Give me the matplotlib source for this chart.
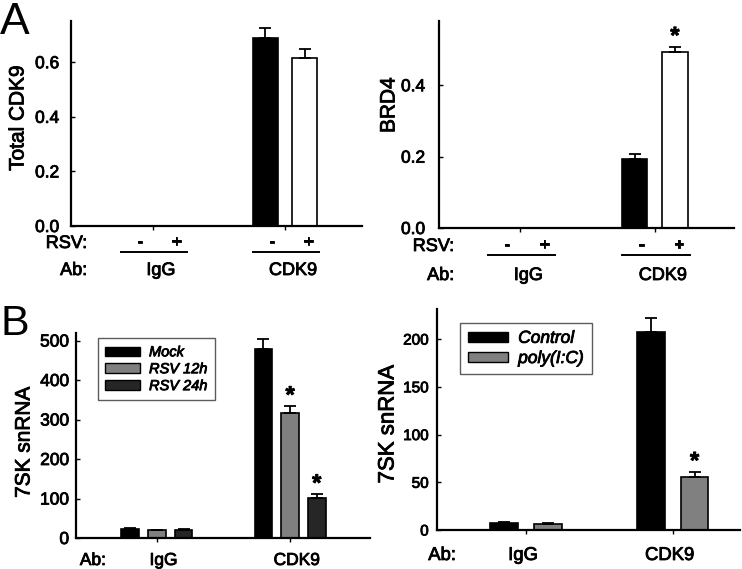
import numpy as np
import matplotlib
matplotlib.use("Agg")
import matplotlib.pyplot as plt
from matplotlib.patches import Patch
from matplotlib import transforms
import matplotlib.patheffects as pe

plt.rcParams['font.family'] = ['Liberation Sans', 'DejaVu Sans']

W, H = 742, 569

# ---- data ----
groups = ["IgG", "CDK9"]

# A left: total CDK9
cdk9_mock = [0.0, 0.688]
cdk9_mock_err = [0.0, 0.039]
cdk9_rsv = [0.0, 0.616]
cdk9_rsv_err = [0.0, 0.032]

# A right: BRD4
brd4_mock = [0.0, 0.193]
brd4_mock_err = [0.0, 0.014]
brd4_rsv = [0.0, 0.492]
brd4_rsv_err = [0.0, 0.016]

# B left: 7SK snRNA after RSV
sk_mock = [22.7, 478]
sk_mock_err = [1.5, 27]
sk_rsv12 = [19, 316]
sk_rsv12_err = [1.0, 18]
sk_rsv24 = [21, 101]
sk_rsv24_err = [1.5, 10]

# B right: 7SK snRNA after poly(I:C)
pic_ctrl = [7.7, 207.4]
pic_ctrl_err = [0.8, 14.3]
pic_poly = [6.3, 55.3]
pic_poly_err = [0.8, 5.7]

BLACK = "#000000"
GRAY = "#808080"
DARK = "#262626"


def px_axes(fig, left, right, top, bottom):
	return fig.add_axes([left / W, 1 - bottom / H, (right - left) / W, (bottom - top) / H])


def style_axes(ax, xlim, ylim, yticks, fmt, fs, pad):
	ax.set_xlim(*xlim)
	ax.set_ylim(*ylim)
	for s in ["top", "right"]:
		ax.spines[s].set_visible(False)
	for s in ["left", "bottom"]:
		ax.spines[s].set_linewidth(1.6)
	ax.set_xticks([1, 2])
	ax.set_xticklabels([])
	ax.tick_params(axis="x", direction="out", length=3, width=1)
	ax.set_yticks(yticks)
	ax.set_yticklabels([fmt % v for v in yticks], fontsize=fs)
	ax.tick_params(axis="y", direction="in", length=3, width=1, pad=pad)


def draw_bars(ax, offset, width, vals, errs, color, star=None):
	x = np.array([1, 2]) + offset
	ax.bar(x, vals, width, color=color, edgecolor="k", linewidth=1.2, zorder=2)
	ax.errorbar(x, vals, yerr=[np.zeros(len(vals)), errs], fmt="none", ecolor="k",
				elinewidth=1.3, capsize=4.5, capthick=1.3, zorder=3)
	if star is not None:
		for i in star:
			ax.annotate("*", (x[i], vals[i] + errs[i]), xytext=(0, -1), textcoords="offset points",
						ha="center", va="bottom", fontsize=17, fontweight="bold")


def fy(py):
	return 1 - py / H


fig = plt.figure(figsize=(W / 100, H / 100), dpi=100)

# ---------- A left ----------
ax1 = px_axes(fig, 71, 362, 21, 226)
style_axes(ax1, (0.379, 2.583), (0, 0.751), [0.0, 0.2, 0.4, 0.6], "%.1f", 12.5, 8.5)
draw_bars(ax1, -0.15, 0.19, cdk9_mock, cdk9_mock_err, BLACK)
draw_bars(ax1, 0.15, 0.19, cdk9_rsv, cdk9_rsv_err, "white")
fig.text(18 / W, fy(118), "Total CDK9", rotation=90, ha="center", va="center", fontsize=15)

# ---------- A right ----------
ax2 = px_axes(fig, 439, 734, 21, 228)
style_axes(ax2, (0.395, 2.59), (0, 0.58), [0.0, 0.2, 0.4], "%.1f", 12.5, 10)
draw_bars(ax2, -0.15, 0.19, brd4_mock, brd4_mock_err, BLACK)
draw_bars(ax2, 0.15, 0.19, brd4_rsv, brd4_rsv_err, "white", star=[1])
fig.text(389 / W, fy(105), "BRD4", rotation=90, ha="center", va="center", fontsize=15)

# RSV / Ab rows under panel A
for ax, lab_r, rsv_y, line_y, ab_y in [
	(ax1, 87, 248, 251, 275),
	(ax2, 454, 251, 254, 280),
]:
	fig.text(lab_r / W, fy(rsv_y), "RSV:", ha="right", va="baseline", fontsize=13)
	fig.text(lab_r / W, fy(ab_y), "Ab:", ha="right", va="baseline", fontsize=13)
	tr = transforms.blended_transform_factory(ax.transData, fig.transFigure)
	for g, name in zip([1, 2], groups):
		ax.text(g - 0.1, fy(rsv_y - 1), "-", transform=tr, ha="center", va="baseline",
				fontsize=13, clip_on=False)
		ax.text(g + 0.18, fy(rsv_y - 1), "+", transform=tr, ha="center", va="baseline",
				fontsize=13, clip_on=False)
		ax.plot([g - 0.24, g + 0.26], [fy(line_y + 1)] * 2, transform=tr, color="k", lw=1.4, clip_on=False)
		ax.text(g + 0.06, fy(ab_y), name, transform=tr, ha="center", va="baseline",
				fontsize=13, clip_on=False)

# ---------- B left ----------
ax3 = px_axes(fig, 76, 370, 333, 538)
style_axes(ax3, (0.393, 2.6), (0, 519), [0, 100, 200, 300, 400, 500], "%d", 12.5, 5)
draw_bars(ax3, -0.2, 0.132, sk_mock, sk_mock_err, BLACK)
draw_bars(ax3, 0.0, 0.132, sk_rsv12, sk_rsv12_err, GRAY, star=[1])
draw_bars(ax3, 0.2, 0.132, sk_rsv24, sk_rsv24_err, DARK, star=[1])
fig.text(24 / W, fy(442), "7SK snRNA", rotation=90, ha="center", va="center", fontsize=15)

h3 = [Patch(facecolor=c, edgecolor="k", linewidth=1) for c in [BLACK, GRAY, DARK]]
leg3 = fig.legend(h3, ["Mock", "RSV 12h", "RSV 24h"], loc="upper left",
				  bbox_to_anchor=(98 / W, fy(338)), bbox_transform=fig.transFigure,
				  prop={"style": "italic", "size": 10.5}, fancybox=False,
				  edgecolor="#333333", handlelength=2.4, handleheight=0.6, handletextpad=0.6,
				  labelspacing=0.2, borderpad=0.5, borderaxespad=0)
leg3.get_frame().set_linewidth(1.0)

# ---------- B right ----------
ax4 = px_axes(fig, 437, 740, 309, 530)
style_axes(ax4, (0.393, 2.46), (0, 231.5), [0, 50, 100, 150, 200], "%d", 11, 6)
draw_bars(ax4, -0.15, 0.19, pic_ctrl, pic_ctrl_err, BLACK)
draw_bars(ax4, 0.15, 0.19, pic_poly, pic_poly_err, GRAY, star=[1])
fig.text(388 / W, fy(424), "7SK snRNA", rotation=90, ha="center", va="center", fontsize=16)

h4 = [Patch(facecolor=c, edgecolor="k", linewidth=1) for c in [BLACK, GRAY]]
leg4 = fig.legend(h4, ["Control", "poly(I:C)"], loc="upper left",
				  bbox_to_anchor=(460 / W, fy(323)), bbox_transform=fig.transFigure,
				  prop={"style": "italic", "size": 12.5}, fancybox=False,
				  edgecolor="#333333", handlelength=2.3, handleheight=0.5, handletextpad=0.6,
				  labelspacing=0.3, borderpad=0.45, borderaxespad=0)
leg4.get_frame().set_linewidth(1.0)

# Ab rows under panel B
for ax, lab_r, ab_y, off, fs in [(ax3, 106, 565, 0.05, 12.5), (ax4, 456, 560, -0.02, 13.3)]:
	fig.text(lab_r / W, fy(ab_y), "Ab:", ha="right", va="baseline", fontsize=fs)
	tr = transforms.blended_transform_factory(ax.transData, fig.transFigure)
	for g, name in zip([1, 2], groups):
		ax.text(g + off, fy(ab_y), name, transform=tr, ha="center", va="baseline",
				fontsize=fs, clip_on=False)

# panel letters
fig.text(0, fy(34), "A", fontsize=32, ha="left", va="baseline")
fig.text(0, fy(335), "B", fontsize=31, ha="left", va="baseline")

# slightly heavier text, like the scanned figure
for t in fig.findobj(matplotlib.text.Text):
	if t.get_text() not in ("A", "B"):
		t.set_path_effects([pe.withStroke(linewidth=0.6, foreground="black")])

fig.savefig("out.png", dpi=100)
